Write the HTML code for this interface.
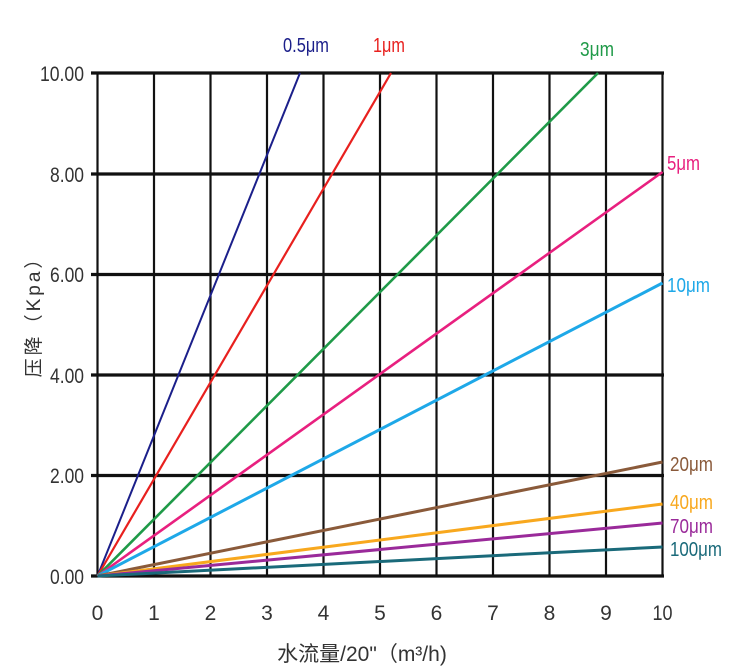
<!DOCTYPE html>
<html><head><meta charset="utf-8"><style>
html,body{margin:0;padding:0;background:#fff;}
svg{display:block;}
text{font-family:"Liberation Sans Narrow","Liberation Sans",sans-serif;}
</style></head><body>
<svg width="750" height="671" viewBox="0 0 750 671" xmlns="http://www.w3.org/2000/svg">
<g stroke="#111" stroke-width="2.2">
<line x1="97.5" y1="72" x2="97.5" y2="577"/>
<line x1="154" y1="72" x2="154" y2="577"/>
<line x1="210.5" y1="72" x2="210.5" y2="577"/>
<line x1="267" y1="72" x2="267" y2="577"/>
<line x1="323.5" y1="72" x2="323.5" y2="577"/>
<line x1="380" y1="72" x2="380" y2="577"/>
<line x1="436.5" y1="72" x2="436.5" y2="577"/>
<line x1="493" y1="72" x2="493" y2="577"/>
<line x1="549.5" y1="72" x2="549.5" y2="577"/>
<line x1="606" y1="72" x2="606" y2="577"/>
<line x1="662.5" y1="72" x2="662.5" y2="577"/>
</g>
<g stroke="#111" stroke-width="3.2">
<line x1="91" y1="73" x2="664" y2="73"/>
<line x1="91" y1="174" x2="664" y2="174"/>
<line x1="91" y1="274.5" x2="664" y2="274.5"/>
<line x1="91" y1="375" x2="664" y2="375"/>
<line x1="91" y1="475.5" x2="664" y2="475.5"/>
<line x1="91" y1="576" x2="664" y2="576"/>
</g>
<g stroke-width="2.6" fill="none">
<line x1="97.5" y1="576" x2="300" y2="73" stroke="#1b1f8a" stroke-width="2"/>
<line x1="97.5" y1="576" x2="391" y2="73" stroke="#e8201e" stroke-width="2.2"/>
<line x1="97.5" y1="576" x2="598" y2="73" stroke="#1f9a48"/>
<line x1="97.5" y1="576" x2="662.5" y2="172" stroke="#e8207f"/>
<line x1="97.5" y1="576" x2="662.5" y2="283" stroke="#1ea8e8" stroke-width="3"/>
<line x1="97.5" y1="576" x2="662.5" y2="462" stroke="#8a5a3a" stroke-width="3"/>
<line x1="97.5" y1="576" x2="662.5" y2="504" stroke="#f8a81e" stroke-width="3"/>
<line x1="97.5" y1="576" x2="662.5" y2="523" stroke="#9a2a9a" stroke-width="3"/>
<line x1="97.5" y1="576" x2="662.5" y2="547" stroke="#1a6a7a" stroke-width="3"/>
</g>
<g font-size="21" fill="#333" text-anchor="end">
<text x="84" y="81" textLength="44" lengthAdjust="spacingAndGlyphs">10.00</text>
<text x="84" y="182" textLength="34" lengthAdjust="spacingAndGlyphs">8.00</text>
<text x="84" y="282" textLength="34" lengthAdjust="spacingAndGlyphs">6.00</text>
<text x="84" y="383" textLength="34" lengthAdjust="spacingAndGlyphs">4.00</text>
<text x="84" y="483" textLength="34" lengthAdjust="spacingAndGlyphs">2.00</text>
<text x="84" y="584" textLength="34" lengthAdjust="spacingAndGlyphs">0.00</text>
</g>
<g font-size="21" fill="#333" text-anchor="middle">
<text x="97.5" y="620">0</text>
<text x="154" y="620">1</text>
<text x="210.5" y="620">2</text>
<text x="267" y="620">3</text>
<text x="323.5" y="620">4</text>
<text x="380" y="620">5</text>
<text x="436.5" y="620">6</text>
<text x="493" y="620">7</text>
<text x="549.5" y="620">8</text>
<text x="606" y="620">9</text>
<text x="662.5" y="620" textLength="20" lengthAdjust="spacingAndGlyphs">10</text>
</g>
<text x="362" y="661" font-size="21" fill="#333" text-anchor="middle" style="font-family:'Liberation Sans','Noto Sans CJK SC',sans-serif">水流量/20"（m³/h)</text>
<text transform="translate(40,312) rotate(-90)" font-size="19" fill="#333" text-anchor="middle" letter-spacing="3" style="font-family:'Liberation Sans','Noto Sans CJK SC',sans-serif">压降（Kpa）</text>
<g font-size="20">
<text x="283" y="52" fill="#1b1f8a" textLength="46" lengthAdjust="spacingAndGlyphs">0.5μm</text>
<text x="373" y="52" fill="#e8201e" textLength="32" lengthAdjust="spacingAndGlyphs">1μm</text>
<text x="580" y="56" fill="#1f9a48" textLength="34" lengthAdjust="spacingAndGlyphs">3μm</text>
<text x="667" y="170" fill="#e8207f" textLength="33" lengthAdjust="spacingAndGlyphs">5μm</text>
<text x="667" y="292" fill="#1ea8e8" textLength="43" lengthAdjust="spacingAndGlyphs">10μm</text>
<text x="670" y="471" fill="#8a5a3a" textLength="43" lengthAdjust="spacingAndGlyphs">20μm</text>
<text x="670" y="509" fill="#f8a81e" textLength="43" lengthAdjust="spacingAndGlyphs">40μm</text>
<text x="670" y="533" fill="#9a2a9a" textLength="43" lengthAdjust="spacingAndGlyphs">70μm</text>
<text x="670" y="556" fill="#1a6a7a" textLength="52" lengthAdjust="spacingAndGlyphs">100μm</text>
</g>
</svg>
</body></html>
